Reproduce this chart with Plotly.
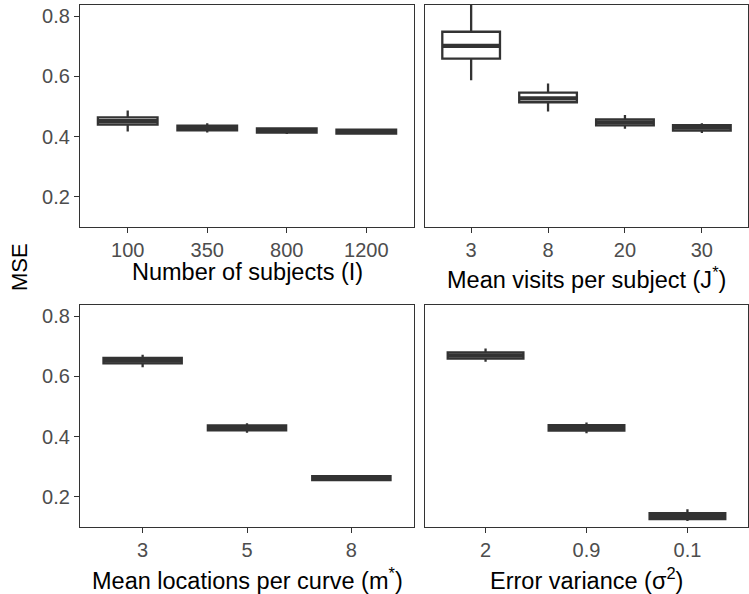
import plotly.graph_objects as go

# ---- data ----
subj_cats = ["100", "350", "800", "1200"]
subj_q1 = [0.440, 0.421, 0.413, 0.410]
subj_med = [0.451, 0.430, 0.420, 0.417]
subj_q3 = [0.464, 0.436, 0.427, 0.423]
subj_lo = [0.417, 0.414, 0.409, 0.411]
subj_hi = [0.487, 0.444, 0.431, 0.425]

visit_cats = ["3", "8", "20", "30"]
visit_q1 = [0.659, 0.514, 0.437, 0.420]
visit_med = [0.701, 0.527, 0.447, 0.430]
visit_q3 = [0.748, 0.546, 0.457, 0.438]
visit_lo = [0.587, 0.483, 0.426, 0.412]
visit_hi = [0.880, 0.576, 0.472, 0.444]

loc_cats = ["3", "5", "8"]
loc_q1 = [0.643, 0.421, 0.256]
loc_med = [0.652, 0.429, 0.263]
loc_q3 = [0.661, 0.437, 0.269]
loc_lo = [0.630, 0.413, 0.254]
loc_hi = [0.672, 0.444, 0.272]

err_cats = ["2", "0.9", "0.1"]
err_q1 = [0.659, 0.420, 0.126]
err_med = [0.669, 0.429, 0.136]
err_q3 = [0.679, 0.438, 0.146]
err_lo = [0.648, 0.411, 0.120]
err_hi = [0.692, 0.447, 0.159]

y_ticks = [0.2, 0.4, 0.6, 0.8]
y_tick_text = ["0.2", "0.4", "0.6", "0.8"]

titles = ["Number of subjects (I)",
          "Mean visits per subject (J<sup>*</sup>)",
          "Mean locations per curve (m<sup>*</sup>)",
          "Error variance (σ<sup>2</sup>)"]

W, H = 749, 594
FONT = "Liberation Sans, Arial, sans-serif"
DARK = "#333333"

panels = [
    (subj_cats, subj_q1, subj_med, subj_q3, subj_lo, subj_hi),
    (visit_cats, visit_q1, visit_med, visit_q3, visit_lo, visit_hi),
    (loc_cats, loc_q1, loc_med, loc_q3, loc_lo, loc_hi),
    (err_cats, err_q1, err_med, err_q3, err_lo, err_hi),
]

# panel pixel boxes: (left, right, top, bottom)
px_boxes = [(80, 414, 5, 227), (425, 748, 5, 227),
            (80, 414, 305, 527), (425, 748, 305, 527)]

fig = go.Figure()
BOXW = 0.75
for i, (cats, q1, med, q3, lo, hi) in enumerate(panels):
    xa = "x" if i == 0 else f"x{i+1}"
    ya = "y" if i == 0 else f"y{i+1}"
    fig.add_trace(go.Box(
        x=cats, q1=q1, median=med, q3=q3, lowerfence=lo, upperfence=hi,
        xaxis=xa, yaxis=ya, fillcolor="white",
        line=dict(color=DARK, width=2.3), whiskerwidth=0,
        width=BOXW, boxpoints=False, showlegend=False, hoverinfo="skip"))
    # thicker median (ggplot fatten)
    for j, m in enumerate(med):
        fig.add_shape(type="line", xref=xa, yref=ya,
                      x0=j - BOXW / 2, x1=j + BOXW / 2, y0=m, y1=m,
                      line=dict(color=DARK, width=4.3))

    l, r, t, b = px_boxes[i]
    xdom = [l / W, r / W]
    ydom = [1 - b / H, 1 - t / H]
    n = len(cats)
    xkey = "xaxis" if i == 0 else f"xaxis{i+1}"
    ykey = "yaxis" if i == 0 else f"yaxis{i+1}"
    fig.layout[xkey] = dict(
        domain=xdom, anchor=ya, type="category",
        categoryorder="array", categoryarray=cats,
        range=[-0.6, n - 0.4], showgrid=False, zeroline=False,
        showline=True, mirror=True, linecolor=DARK, linewidth=1.3,
        ticks="outside", ticklen=5, tickwidth=1.3, tickcolor=DARK,
        tickfont=dict(family=FONT, size=20, color="#4D4D4D"),
        fixedrange=True)
    left_col = i in (0, 2)
    fig.layout[ykey] = dict(
        domain=ydom, anchor=xa, range=[0.1, 0.8367],
        tickvals=y_ticks, ticktext=y_tick_text,
        showticklabels=left_col, ticks="outside" if left_col else "",
        ticklen=5, tickwidth=1.3, tickcolor=DARK,
        showgrid=False, zeroline=False,
        showline=True, mirror=True, linecolor=DARK, linewidth=1.3,
        tickfont=dict(family=FONT, size=20, color="#4D4D4D"),
        fixedrange=True)

# x axis titles as annotations
title_y_px = [272, 278, 579, 579]
for i, txt in enumerate(titles):
    l, r, t, b = px_boxes[i]
    fig.add_annotation(text=txt, xref="paper", yref="paper",
                       x=(l + r) / 2 / W, y=1 - title_y_px[i] / H,
                       xanchor="center", yanchor="middle", showarrow=False,
                       font=dict(family=FONT, size=23.5, color="black"))

fig.add_annotation(text="MSE", xref="paper", yref="paper",
                   x=19 / W, y=1 - 267 / H, textangle=-90,
                   xanchor="center", yanchor="middle", showarrow=False,
                   font=dict(family=FONT, size=22, color="black"))

fig.update_layout(width=W, height=H, margin=dict(l=0, r=0, t=0, b=0),
                  paper_bgcolor="white", plot_bgcolor="white")

fig.write_html("out.html", config={"displayModeBar": False},
               post_script="document.body.style.margin='0';document.body.style.overflow='hidden';")
